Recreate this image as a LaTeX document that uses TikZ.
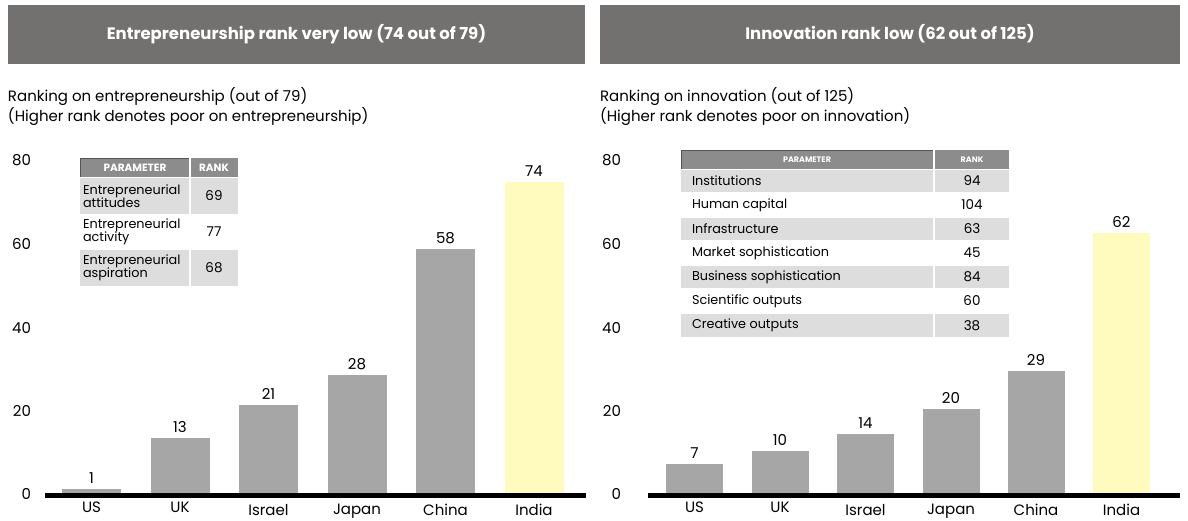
\documentclass[tikz,border=0pt]{standalone}
\usepackage{fontspec}
\setmainfont{Poppins}
\usepackage{tikz}
\usetikzlibrary{positioning}
\usepackage{xcolor}
\definecolor{headgray}{RGB}{115,113,112}
\definecolor{bargray}{RGB}{166,166,166}
\definecolor{hiyellow}{RGB}{255,250,190}
\definecolor{rowgray}{RGB}{221,221,221}
\definecolor{thgray}{RGB}{140,140,140}
\definecolor{thedge}{RGB}{85,85,85}

\begin{document}
\begin{tikzpicture}[x=1pt,y=-1pt,
  every node/.style={inner sep=0pt,outer sep=0pt},
  headtext/.style={text=white,font=\fontsize{16.5}{18}\selectfont\bfseries},
  subtext/.style={font=\fontsize{15}{17.5}\selectfont,align=left,anchor=west},
  bar/.style={fill=bargray,minimum width=59pt,anchor=south},
  hibar/.style={bar,fill=hiyellow},
  vallab/.style={font=\fontsize{15}{16}\selectfont},
  catlab/.style={font=\fontsize{15}{16}\selectfont,anchor=base},
  ticklab/.style={font=\fontsize{15}{16}\selectfont,anchor=east},
  thtext/.style={text=white,font=\fontsize{10.5}{11}\selectfont\bfseries},
  tdtext/.style={font=\fontsize{12.8}{13.5}\selectfont,align=left,anchor=west},
  tdval/.style={font=\fontsize{13.5}{14}\selectfont}
]
\useasboundingbox (0,0) rectangle (1188,520);

% left panel
\fill[headgray] (8,5) rectangle (585,64);
\node[headtext] (ltitle) at (296.5,34) {Entrepreneurship rank very low (74 out of 79)};
\node[subtext] (lsub) at (8,106.5) {Ranking on entrepreneurship (out of 79)\\(Higher rank denotes poor on entrepreneurship)};

\node[ticklab] (lt80) at (31,160) {80};
\node[ticklab] (lt60) at (31,244) {60};
\node[ticklab] (lt40) at (31,328) {40};
\node[ticklab] (lt20) at (31,411) {20};
\node[ticklab] (lt0) at (31,494) {0};

\node[bar,minimum height={1*4.2pt}] (lUS) at (91.5,493) {};
\node[bar,minimum height={13*4.2pt}] (lUK) at (180,493) {};
\node[bar,minimum height={21*4.2pt}] (lIsrael) at (268.5,493) {};
\node[bar,minimum height={28*4.2pt}] (lJapan) at (357,493) {};
\node[bar,minimum height={58*4.2pt}] (lChina) at (445.5,493) {};
\node[hibar,minimum height={74*4.2pt}] (lIndia) at (534,493) {};
\draw[line width=5pt] (45,495.5) -- (586,495.5);

\node[vallab,above=5.5pt of lUS] (vlUS) {1};
\node[vallab,above=5.5pt of lUK] (vlUK) {13};
\node[vallab,above=5.5pt of lIsrael] (vlIsrael) {21};
\node[vallab,above=5.5pt of lJapan] (vlJapan) {28};
\node[vallab,above=5.5pt of lChina] (vlChina) {58};
\node[vallab,above=5.5pt of lIndia] (vlIndia) {74};

\node[catlab] (clUS) at (91.5,512.5) {US};
\node[catlab] (clUK) at (180,512.5) {UK};
\node[catlab] (clIsrael) at (268.5,515.5) {Israel};
\node[catlab] (clJapan) at (357,514.5) {Japan};
\node[catlab] (clChina) at (445.5,515.5) {China};
\node[catlab] (clIndia) at (534,515.5) {India};

% left table
\fill[thgray] (80,158) rectangle (189,177);
\draw[thedge,line width=1pt] (80,177) -- (80,158) -- (189,158);
\fill[thgray] (191,158) rectangle (238,177);
\fill[rowgray] (80,178) rectangle (189,214);
\fill[rowgray] (191,178) rectangle (238,214);
\fill[rowgray] (80,250) rectangle (189,286);
\fill[rowgray] (191,250) rectangle (238,286);
\node[thtext] (lthp) at (135,167.5) {PARAMETER};
\node[thtext] (lthr) at (214,167.5) {RANK};
\node[tdtext] (lp1) at (83,196) {Entrepreneurial\\attitudes};
\node[tdtext] (lp2) at (83,232) {Entrepreneurial\\activity};
\node[tdtext] (lp3) at (83,268) {Entrepreneurial\\aspiration};
\node[tdval] (lr1) at (214,196) {69};
\node[tdval] (lr2) at (214,232) {77};
\node[tdval] (lr3) at (214,268) {68};

% right panel
\fill[headgray] (600,5) rectangle (1180,64);
\node[headtext] (rtitle) at (890,34) {Innovation rank low (62 out of 125)};
\node[subtext] (rsub) at (600,106.5) {Ranking on innovation (out of 125)\\(Higher rank denotes poor on innovation)};

\node[ticklab] (rt80) at (621,160) {80};
\node[ticklab] (rt60) at (621,244) {60};
\node[ticklab] (rt40) at (621,328) {40};
\node[ticklab] (rt20) at (621,411) {20};
\node[ticklab] (rt0) at (621,494) {0};

\node[bar,minimum width=57pt,minimum height={7*4.2pt}] (rUS) at (694.5,493) {};
\node[bar,minimum width=57pt,minimum height={10*4.2pt}] (rUK) at (780,493) {};
\node[bar,minimum width=57pt,minimum height={14*4.2pt}] (rIsrael) at (865.5,493) {};
\node[bar,minimum width=57pt,minimum height={20*4.2pt}] (rJapan) at (951,493) {};
\node[bar,minimum width=57pt,minimum height={29*4.2pt}] (rChina) at (1036,493) {};
\node[hibar,minimum width=57pt,minimum height={62*4.2pt}] (rIndia) at (1121.5,493) {};
\draw[line width=5pt] (648,495.5) -- (1180,495.5);

\node[vallab,above=5.5pt of rUS] (vrUS) {7};
\node[vallab,above=5.5pt of rUK] (vrUK) {10};
\node[vallab,above=5.5pt of rIsrael] (vrIsrael) {14};
\node[vallab,above=5.5pt of rJapan] (vrJapan) {20};
\node[vallab,above=5.5pt of rChina] (vrChina) {29};
\node[vallab,above=5.5pt of rIndia] (vrIndia) {62};

\node[catlab] (crUS) at (694.5,512.5) {US};
\node[catlab] (crUK) at (780,512.5) {UK};
\node[catlab] (crIsrael) at (865.5,515.5) {Israel};
\node[catlab] (crJapan) at (951,514.5) {Japan};
\node[catlab] (crChina) at (1036,515.5) {China};
\node[catlab] (crIndia) at (1121.5,515.5) {India};

% right table
\fill[thgray] (681,150) rectangle (933,169);
\draw[thedge,line width=1pt] (681,169) -- (681,150) -- (933,150);
\fill[thgray] (935,150) rectangle (1009,169);
\fill[rowgray] (681,170) rectangle (933,192);
\fill[rowgray] (935,170) rectangle (1009,192);
\fill[rowgray] (681,218) rectangle (933,240);
\fill[rowgray] (935,218) rectangle (1009,240);
\fill[rowgray] (681,266) rectangle (933,288);
\fill[rowgray] (935,266) rectangle (1009,288);
\fill[rowgray] (681,314) rectangle (933,337);
\fill[rowgray] (935,314) rectangle (1009,337);
\node[thtext,font=\fontsize{8}{9}\selectfont\bfseries] (rthp) at (807,159.5) {PARAMETER};
\node[thtext,font=\fontsize{8}{9}\selectfont\bfseries] (rthr) at (972,159.5) {RANK};
\node[tdtext] (rp1) at (692,181) {Institutions};
\node[tdtext] (rp2) at (692,205) {Human capital};
\node[tdtext] (rp3) at (692,229) {Infrastructure};
\node[tdtext] (rp4) at (692,253) {Market sophistication};
\node[tdtext] (rp5) at (692,277) {Business sophistication};
\node[tdtext] (rp6) at (692,301) {Scientific outputs};
\node[tdtext] (rp7) at (692,325.5) {Creative outputs};
\node[tdval] (rr1) at (972,181) {94};
\node[tdval] (rr2) at (972,205) {104};
\node[tdval] (rr3) at (972,229) {63};
\node[tdval] (rr4) at (972,253) {45};
\node[tdval] (rr5) at (972,277) {84};
\node[tdval] (rr6) at (972,301) {60};
\node[tdval] (rr7) at (972,325.5) {38};
\end{tikzpicture}
\end{document}
